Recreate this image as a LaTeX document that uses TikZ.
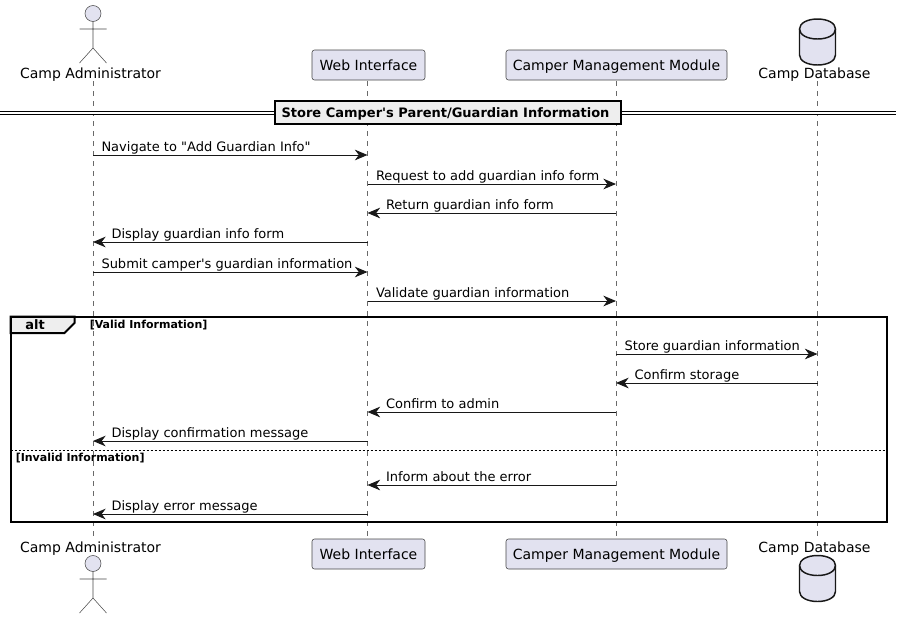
\documentclass[tikz,border=0pt]{standalone}
\usepackage{fontspec}
\setmainfont[Ligatures=TeXOff]{DejaVu Sans}
\usetikzlibrary{arrows.meta}

\definecolor{partfill}{HTML}{E2E2F0}
\definecolor{partline}{HTML}{181818}
\definecolor{tabfill}{HTML}{EEEEEE}

\tikzset{
	lifeline/.style={partline!65, line width=.4pt, dash pattern=on 3.75pt off 3.75pt},
	partbox/.style={draw=partline!80, line width=.4pt, fill=partfill, rounded corners=1.8pt, minimum height=22.5pt, inner sep=0pt, text height=7.6pt, text depth=0pt, font=\fontsize{10.5}{12}\selectfont},
	partname/.style={inner sep=0pt, text height=7.6pt, text depth=0pt, font=\fontsize{10.5}{12}\selectfont},
	msg/.style={-{Stealth[length=9.5pt,width=8pt,inset=3pt]}, partline, line width=.75pt},
	msgtext/.style={anchor=base west, text=black, inner sep=0pt, font=\fontsize{9.75}{11}\selectfont},
	frameline/.style={black, line width=1.5pt},
	grouptext/.style={anchor=base west, inner sep=0pt, font=\fontsize{8.25}{10}\selectfont\bfseries},
	stickman/.pic={
		\draw[partline!80, line width=.4pt, fill=partfill] (0,13.5) circle (6pt);
		\draw[partline!80, line width=.4pt] (0,21.5) -- (0,48) (-13.5,29) -- (13.5,29) (-13.5,63) -- (0,48) -- (13.5,63);
	},
	dbcan/.pic={
		\draw[partline, line width=1.1pt, fill=partfill] (-18,10) .. controls (-18,4) and (-10,0) .. (0,0) .. controls (10,0) and (18,4) .. (18,10) -- (18,36) .. controls (18,42) and (10,46) .. (0,46) .. controls (-10,46) and (-18,42) .. (-18,36) -- cycle;
		\draw[partline, line width=1.1pt] (-18,10) .. controls (-18,16) and (-10,20) .. (0,20) .. controls (10,20) and (18,16) .. (18,10);
	},
}

\begin{document}
\begin{tikzpicture}[x=.75pt,y=-.75pt]
	\useasboundingbox (0,0) rectangle (902,619);

	% participants, top and bottom
	\pic at (93,0) {stickman};
	\pic at (93,550) {stickman};
	\pic at (817.5,19) {dbcan};
	\pic at (817.5,555.5) {dbcan};
	\node[partname] (admintop) at (90.5,73) {Camp Administrator};
	\node[partname] (adminbot) at (90.5,547) {Camp Administrator};
	\node[partbox, minimum width=84.75pt] (webtop) at (368.5,65) {Web Interface};
	\node[partbox, minimum width=84.75pt] (webbot) at (368.5,554) {Web Interface};
	\node[partbox, minimum width=165.75pt] (modtop) at (616.5,65) {Camper Management Module};
	\node[partbox, minimum width=165.75pt] (modbot) at (616.5,554) {Camper Management Module};
	\node[partname] (dbtop) at (814.5,73) {Camp Database};
	\node[partname] (dbbot) at (814.5,547) {Camp Database};

	\coordinate (adminup) at (93,81);
	\coordinate (admindown) at (93,539);
	\coordinate (webup) at (367.5,81);
	\coordinate (webdown) at (367.5,539);
	\coordinate (modup) at (616,81);
	\coordinate (moddown) at (616,539);
	\coordinate (dbup) at (817.5,81);
	\coordinate (dbdown) at (817.5,539);

	\draw[lifeline] (adminup) -- (admindown);
	\draw[lifeline] (webup) -- (webdown);
	\draw[lifeline] (modup) -- (moddown);
	\draw[lifeline] (dbup) -- (dbdown);

	% points where the messages meet the lifelines
	\foreach \n/\y in {1/155,2/184,3/213,4/242,5/272,6/301,7/354,8/383,9/412,10/441,11/485,12/514} {
		\coordinate (admin\n) at (93,\y);
		\coordinate (web\n) at (367.5,\y);
		\coordinate (mod\n) at (616,\y);
		\coordinate (db\n) at (817.5,\y);
	}

	% title bar
	\coordinate (barleft) at (0,113);
	\coordinate (barright) at (896,113);
	\draw[black, line width=2.6pt] (barleft) -- (barright);
	\draw[white, line width=.9pt] (barleft) -- (barright);
	\node[draw=black, line width=1.5pt, fill=tabfill, minimum width=260pt, minimum height=17pt, inner sep=0pt, text height=7.1pt, text depth=0pt, font=\fontsize{9.75}{11}\selectfont\bfseries] (title) at (448,112.5) {Store Camper's Parent/Guardian Information\hspace*{3.75pt}};

	% messages
	\draw[msg] (admin1) -- node[msgtext, pos=0, xshift=6pt, yshift=2.8pt] (m1) {Navigate to "Add Guardian Info"} (web1);
	\draw[msg] (web2) -- node[msgtext, pos=0, xshift=6pt, yshift=2.8pt] (m2) {Request to add guardian info form} (mod2);
	\draw[msg] (mod3) -- node[msgtext, pos=1, xshift=13.5pt, yshift=2.8pt] (m3) {Return guardian info form} (web3);
	\draw[msg] (web4) -- node[msgtext, pos=1, xshift=13.5pt, yshift=2.8pt] (m4) {Display guardian info form} (admin4);
	\draw[msg] (admin5) -- node[msgtext, pos=0, xshift=6pt, yshift=2.8pt] (m5) {Submit camper's guardian information} (web5);
	\draw[msg] (web6) -- node[msgtext, pos=0, xshift=6pt, yshift=2.8pt] (m6) {Validate guardian information} (mod6);
	\draw[msg] (mod7) -- node[msgtext, pos=0, xshift=6pt, yshift=2.8pt] (m7) {Store guardian information} (db7);
	\draw[msg] (db8) -- node[msgtext, pos=1, xshift=13.5pt, yshift=2.8pt] (m8) {Confirm storage} (mod8);
	\draw[msg] (mod9) -- node[msgtext, pos=1, xshift=13.5pt, yshift=2.8pt] (m9) {Confirm to admin} (web9);
	\draw[msg] (web10) -- node[msgtext, pos=1, xshift=13.5pt, yshift=2.8pt] (m10) {Display confirmation message} (admin10);
	\draw[msg] (mod11) -- node[msgtext, pos=1, xshift=13.5pt, yshift=2.8pt] (m11) {Inform about the error} (web11);
	\draw[msg] (web12) -- node[msgtext, pos=1, xshift=13.5pt, yshift=2.8pt] (m12) {Display error message} (admin12);

	% alt frame
	\draw[frameline, fill=tabfill] (10.5,316.5) -- (74.5,316.5) -- (74.5,323) -- (64.5,333) -- (10.5,333) -- cycle;
	\draw[frameline] (10.5,316.5) rectangle (887,522);
	\draw[black, line width=.75pt, dash pattern=on 1.5pt off 1.5pt] (10.5,450) -- (887,450);
	\node[inner sep=0pt, font=\fontsize{9.75}{11}\selectfont\bfseries] (alttag) at (35,325) {alt};
	\node[grouptext] (validcase) at (89.5,328) {[Valid Information]};
	\node[grouptext] (invalidcase) at (15.5,461) {[Invalid Information]};
\end{tikzpicture}
\end{document}
